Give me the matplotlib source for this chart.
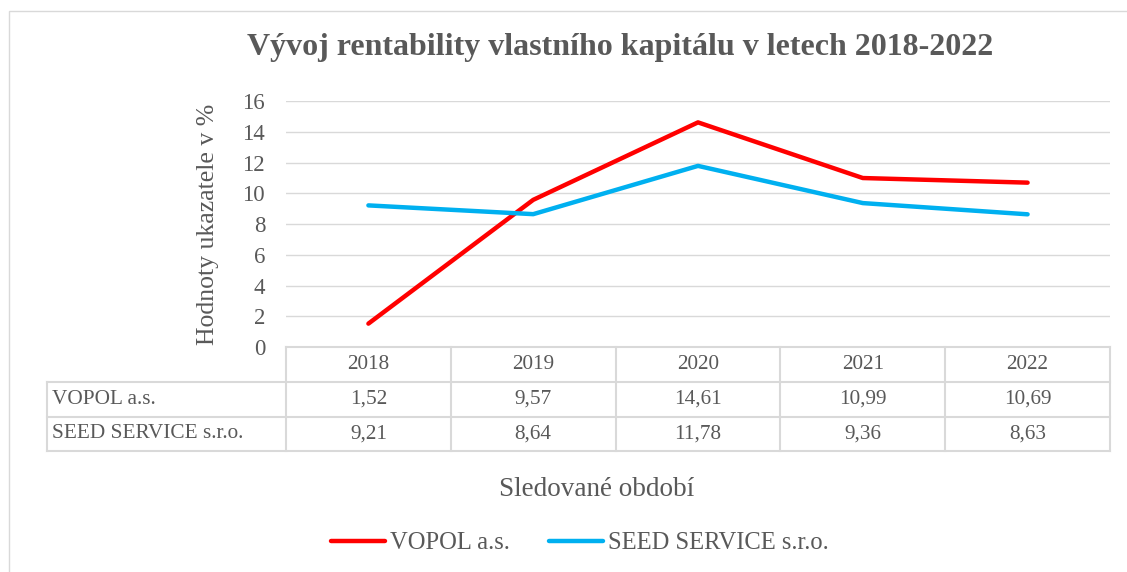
import matplotlib.pyplot as plt
from matplotlib.patches import Rectangle

years = ['2018', '2019', '2020', '2021', '2022']
vopol = [1.52, 9.57, 14.61, 10.99, 10.69]
seed = [9.21, 8.64, 11.78, 9.36, 8.63]
series_names = ['VOPOL a.s.', 'SEED SERVICE s.r.o.']

TXT = '#595959'
GRID = '#d9d9d9'
plt.rcParams['font.family'] = ['Liberation Serif', 'DejaVu Serif']

W, H = 1127, 572
fig = plt.figure(figsize=(W / 100, H / 100), dpi=100)

# outer chart border
fig.patches.append(Rectangle((9 / W, -0.1), 1.2, 1 - 11 / H + 0.1,
                             transform=fig.transFigure, fill=False,
                             edgecolor=GRID, linewidth=1))

left, right, top, bottom = 286, 1110, 101, 347
ax = fig.add_axes([left / W, 1 - bottom / H, (right - left) / W, (bottom - top) / H])

x = list(range(len(years)))
ax.plot(x, vopol, color='#ff0000', linewidth=3.2, solid_capstyle='round', label=series_names[0])
ax.plot(x, seed, color='#00b0f0', linewidth=3.2, solid_capstyle='round', label=series_names[1])

ax.set_xlim(-0.5, len(years) - 0.5)
ax.set_ylim(0, 16)
ax.set_yticks(range(0, 17, 2))
ax.tick_params(axis='y', length=0, labelsize=16.5, labelcolor=TXT, pad=15)
ax.set_xticks([])
ax.grid(axis='y', color=GRID, linewidth=1)
ax.set_axisbelow(True)
for s in ax.spines.values():
    s.set_visible(False)

ax.set_ylabel('Hodnoty ukazatele v %', fontsize=18.5, color=TXT)
ax.yaxis.set_label_coords((219 - left) / (right - left), 0.5)

# data table under the plot
ph = bottom - top
def ay(py):
    return (bottom - py) / ph

pw = right - left
lab_x = (47 - left) / pw
rows = [347, 382, 417, 451]
lk = dict(transform=ax.transAxes, clip_on=False, color=GRID, linewidth=1.5)
ax.plot([0, 1], [ay(rows[0])] * 2, **lk)
for r in rows[1:]:
    ax.plot([lab_x, 1], [ay(r)] * 2, **lk)
ax.plot([lab_x, lab_x], [ay(rows[1]), ay(rows[3])], **lk)
for i in range(len(years) + 1):
    xc = i / len(years)
    ax.plot([xc, xc], [ay(rows[0]), ay(rows[3])], **lk)

tk = dict(transform=ax.transAxes, fontsize=15.3, color=TXT, va='center')
for i, yr in enumerate(years):
    xc = (i + 0.5) / len(years)
    ymid = lambda a, b: ay((rows[a] + rows[b]) / 2)
    ax.text(xc, ymid(0, 1), yr, ha='center', **tk)
    ax.text(xc, ymid(1, 2), f'{vopol[i]:.2f}'.replace('.', ','), ha='center', **tk)
    ax.text(xc, ymid(2, 3), f'{seed[i]:.2f}'.replace('.', ','), ha='center', **tk)
ax.text(lab_x + 0.006, ay((rows[1] + rows[2]) / 2), series_names[0], ha='left', **tk)
ax.text(lab_x + 0.006, ay((rows[2] + rows[3]) / 2), series_names[1], ha='left', **tk)

fig.text(620 / W, 1 - 48 / H, 'Vývoj rentability vlastního kapitálu v letech 2018-2022',
         ha='center', va='center', fontsize=23, fontweight='bold', color=TXT)
fig.text(597 / W, 1 - 489 / H, 'Sledované období', ha='center', va='center',
         fontsize=19.5, color=TXT)

fig.legend(loc='center', bbox_to_anchor=(580 / W, 1 - 543 / H), ncol=2, frameon=False,
           fontsize=17.7, handlelength=2.2, columnspacing=1.6, handletextpad=0.2,
           labelcolor=TXT)

fig.savefig('out.png', dpi=100)
